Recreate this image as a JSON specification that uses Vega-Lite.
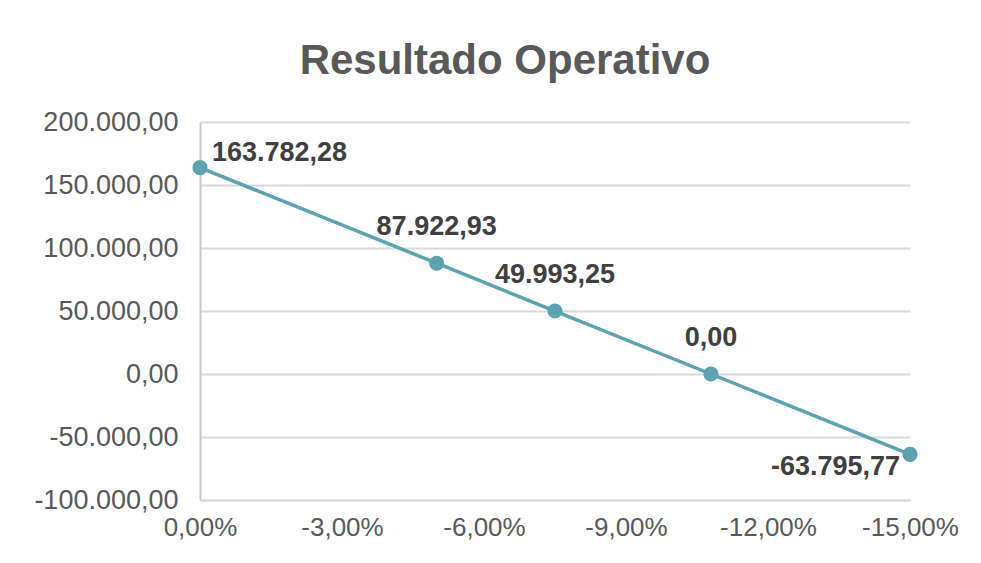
{
  "$schema": "https://vega.github.io/schema/vega-lite/v6.json",
  "width": 710,
  "height": 378,
  "autosize": "none",
  "padding": {"left": 200, "top": 122, "right": 71, "bottom": 63},
  "background": "white",
  "title": {
    "text": "Resultado Operativo",
    "font": "Liberation Sans",
    "fontSize": 42,
    "fontWeight": "bold",
    "color": "#595959",
    "anchor": "middle",
    "dx": -50,
    "offset": 25
  },
  "config": {
    "locale": {
      "number": {"decimal": ",", "thousands": ".", "grouping": [3], "currency": ["", ""], "minus": "-", "percent": "%"}
    },
    "view": {"stroke": null},
    "font": "Liberation Sans"
  },
  "data": {
    "values": [
      {"variacion": 0, "resultado": 163782.28},
      {"variacion": -0.05, "resultado": 87922.93},
      {"variacion": -0.075, "resultado": 49993.25},
      {"variacion": -0.10795, "resultado": 0},
      {"variacion": -0.15, "resultado": -63795.77}
    ]
  },
  "encoding": {
    "x": {
      "field": "variacion",
      "type": "quantitative",
      "scale": {"domain": [-0.15, 0], "reverse": true, "nice": false, "zero": false},
      "axis": {
        "title": null,
        "values": [0, -0.03, -0.06, -0.09, -0.12, -0.15],
        "format": ".2%",
        "grid": false,
        "ticks": false,
        "domain": true,
        "domainColor": "#d9d9d9",
        "domainWidth": 2,
        "labelFont": "Liberation Sans",
        "labelFontSize": 26,
        "labelColor": "#595959",
        "labelPadding": 14,
        "labelFlush": false
      }
    },
    "y": {
      "field": "resultado",
      "type": "quantitative",
      "scale": {"domain": [-100000, 200000], "nice": false},
      "axis": {
        "title": null,
        "values": [-100000, -50000, 0, 50000, 100000, 150000, 200000],
        "format": ",.2f",
        "grid": true,
        "gridColor": "#d9d9d9",
        "gridWidth": 2,
        "ticks": false,
        "domain": true,
        "domainColor": "#c8c8c8",
        "domainWidth": 2,
        "labelFont": "Liberation Sans",
        "labelFontSize": 27,
        "labelColor": "#595959",
        "labelPadding": 22
      }
    }
  },
  "layer": [
    {"mark": {"type": "line", "color": "#5BA3AF", "strokeWidth": 3.5}},
    {"mark": {"type": "point", "filled": true, "opacity": 1, "color": "#5BA3AF", "size": 230}},
    {
      "transform": [{"filter": "datum.variacion == 0"}],
      "mark": {"type": "text", "align": "left", "baseline": "alphabetic", "dx": 12, "dy": -7, "fontSize": 27, "fontWeight": "bold", "color": "#404040"},
      "encoding": {"text": {"field": "resultado", "type": "quantitative", "format": ",.2f"}}
    },
    {
      "transform": [{"filter": "datum.variacion < 0 && datum.variacion > -0.15"}],
      "mark": {"type": "text", "align": "center", "baseline": "alphabetic", "dy": -28, "fontSize": 27, "fontWeight": "bold", "color": "#404040"},
      "encoding": {"text": {"field": "resultado", "type": "quantitative", "format": ",.2f"}}
    },
    {
      "transform": [{"filter": "datum.variacion == -0.15"}],
      "mark": {"type": "text", "align": "right", "baseline": "alphabetic", "dx": -10, "dy": 21, "fontSize": 27, "fontWeight": "bold", "color": "#404040"},
      "encoding": {"text": {"field": "resultado", "type": "quantitative", "format": ",.2f"}}
    }
  ]
}
